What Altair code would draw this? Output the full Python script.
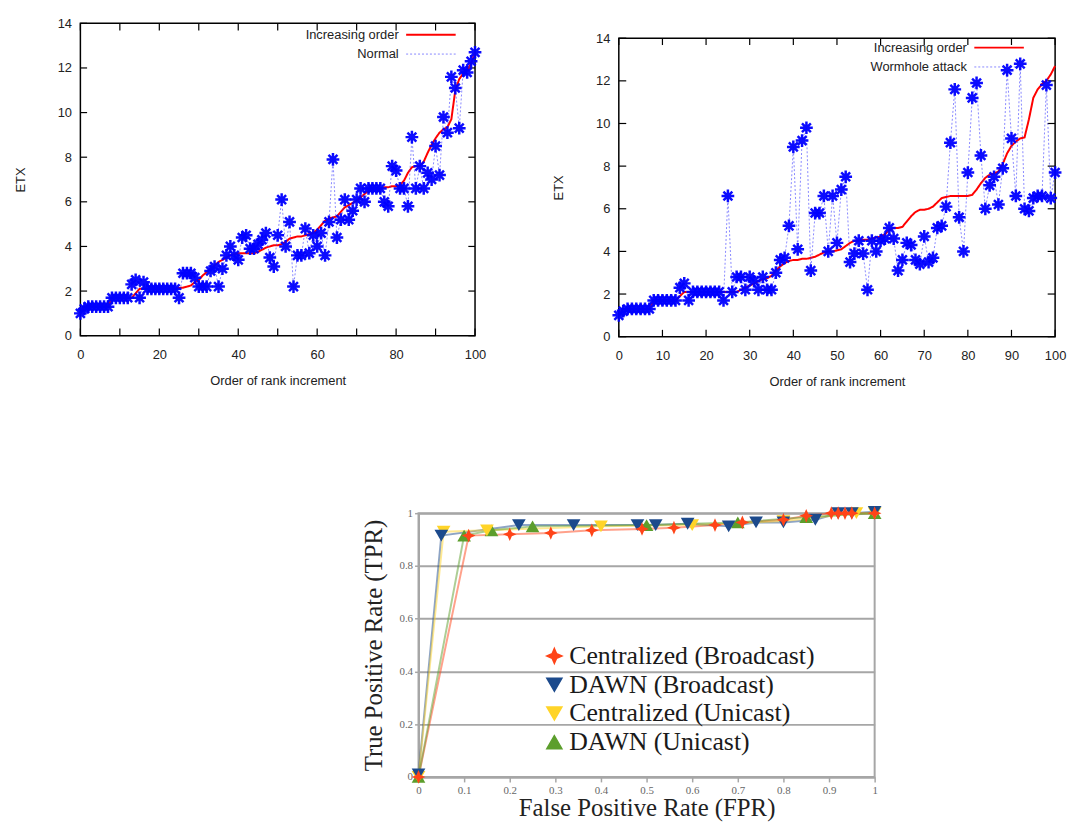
import altair as alt
import pandas as pd

# ---------------- data: top-left panel (Normal) ----------------
rank = list(range(101))
inc_order_1 = [
    1.0, 1.3, 1.3, 1.3, 1.3, 1.3, 1.3, 1.3, 1.7, 1.7,
    1.7, 1.7, 1.7, 1.7, 1.9, 2.1, 2.1, 2.1, 2.1, 2.1,
    2.1, 2.1, 2.1, 2.1, 2.1, 2.14, 2.15, 2.2, 2.25, 2.4,
    2.5, 2.7, 2.85, 3.0, 3.15, 3.3, 3.4, 3.5, 3.6, 3.65,
    3.7, 3.7, 3.7, 3.7, 3.7, 3.75, 3.85, 3.95, 4.0, 4.05,
    4.05, 4.1, 4.2, 4.35, 4.4, 4.45, 4.45, 4.5, 4.55, 4.6,
    4.75, 4.95, 5.15, 5.25, 5.3, 5.35, 5.55, 5.75, 5.85, 5.95,
    6.05, 6.2, 6.35, 6.5, 6.55, 6.6, 6.6, 6.65, 6.65, 6.7,
    6.7, 6.75, 6.95, 7.3, 7.55, 7.6, 7.6, 7.8, 8.2, 8.55,
    8.85, 9.1, 9.25, 9.35, 9.7, 11.0, 11.5, 11.75, 11.9, 12.2,
    12.7,
]
normal = [
    1.0, 1.2, 1.3, 1.3, 1.3, 1.3, 1.3, 1.3, 1.7, 1.7,
    1.7, 1.7, 1.7, 2.3, 2.5, 1.7, 2.4, 2.1, 2.1, 2.1,
    2.1, 2.1, 2.1, 2.1, 2.1, 1.7, 2.8, 2.8, 2.8, 2.6,
    2.2, 2.2, 2.2, 2.9, 3.1, 2.2, 3.0, 3.6, 4.0, 3.6,
    3.4, 4.4, 4.5, 3.9, 3.9, 4.1, 4.3, 4.6, 3.5, 3.1,
    4.5, 6.1, 4.0, 5.1, 2.2, 3.6, 3.6, 4.8, 3.7, 4.5,
    4.0, 4.6, 3.6, 5.1, 7.9, 4.4, 5.2, 6.1, 5.2, 5.6,
    6.1, 6.6, 6.0, 6.6, 6.6, 6.6, 6.6, 6.0, 5.8, 7.6,
    7.4, 6.6, 6.6, 5.8, 8.9, 6.6, 7.6, 6.6, 7.3, 7.0,
    8.5, 7.2, 9.8, 9.1, 11.6, 11.1, 9.3, 11.9, 11.8, 12.3,
    12.7,
]

# ---------------- data: top-right panel (Wormhole attack) ----------------
inc_order_2 = [
    1.0, 1.3, 1.3, 1.3, 1.3, 1.3, 1.3, 1.3, 1.7, 1.7,
    1.7, 1.7, 1.7, 1.7, 1.9, 2.1, 2.1, 2.1, 2.1, 2.1,
    2.1, 2.1, 2.1, 2.1, 2.1, 2.1, 2.1, 2.1, 2.2, 2.3,
    2.4, 2.5, 2.6, 2.7, 2.75, 2.85, 3.1, 3.3, 3.45, 3.55,
    3.6, 3.6, 3.65, 3.65, 3.7, 3.75, 3.85, 3.95, 4.0, 4.0,
    4.05, 4.1, 4.25, 4.4, 4.5, 4.5, 4.55, 4.55, 4.6, 4.65,
    4.7, 4.8, 5.0, 5.1, 5.1, 5.15, 5.4, 5.65, 5.85, 5.95,
    5.95, 6.0, 6.1, 6.3, 6.5, 6.55, 6.6, 6.6, 6.6, 6.6,
    6.6, 6.65, 6.9, 7.2, 7.45, 7.6, 7.65, 7.75, 8.1, 8.6,
    8.95, 9.15, 9.3, 9.35, 10.2, 11.2, 11.6, 11.85, 12.0, 12.3,
    12.7,
]
wormhole = [
    1.0, 1.2, 1.3, 1.3, 1.3, 1.3, 1.3, 1.3, 1.7, 1.7,
    1.7, 1.7, 1.7, 1.7, 2.3, 2.5, 1.7, 2.1, 2.1, 2.1,
    2.1, 2.1, 2.1, 2.1, 1.7, 6.6, 2.1, 2.8, 2.8, 2.2,
    2.8, 2.6, 2.2, 2.8, 2.2, 2.2, 3.0, 3.6, 3.7, 5.2,
    8.9, 4.1, 9.2, 9.8, 3.1, 5.8, 5.8, 6.6, 4.0, 6.6,
    4.4, 6.9, 7.5, 3.5, 3.9, 4.5, 3.9, 2.2, 4.5, 4.0,
    4.5, 4.6, 5.1, 4.6, 3.1, 3.6, 4.4, 4.3, 3.6, 3.4,
    4.7, 3.5, 3.7, 5.1, 5.2, 6.1, 9.1, 11.6, 5.6, 4.0,
    7.7, 11.2, 11.9, 8.5, 6.0, 7.1, 7.5, 6.2, 7.9, 12.5,
    9.3, 6.6, 12.8, 6.0, 5.9, 6.5, 6.6, 6.6, 11.8, 6.5,
    7.7,
]
x_ticks = [0, 10, 20, 30, 40, 50, 60, 70, 80, 90, 100]
y_ticks = [0, 2, 4, 6, 8, 10, 12, 14]

# ---------------- data: bottom ROC panel ----------------
roc_series = ["Centralized (Broadcast)", "DAWN (Broadcast)",
              "Centralized (Unicast)", "DAWN (Unicast)"]
cb_fpr = [0, 0.11, 0.2, 0.29, 0.38, 0.49, 0.56, 0.65, 0.71, 0.8, 0.85, 0.905, 0.92, 0.935, 0.95, 1.0]
cb_tpr = [0, 0.915, 0.92, 0.925, 0.935, 0.94, 0.945, 0.955, 0.965, 0.975, 0.99, 1.0, 1.0, 1.0, 1.0, 1.0]
db_fpr = [0, 0.05, 0.22, 0.34, 0.48, 0.52, 0.59, 0.68, 0.74, 0.8, 0.87, 0.92, 0.95, 1.0]
db_tpr = [0.01, 0.915, 0.955, 0.955, 0.955, 0.955, 0.96, 0.95, 0.965, 0.965, 0.975, 1.0, 1.0, 1.005]
cu_fpr = [0, 0.055, 0.15, 0.4, 0.6, 0.8, 0.96, 1.0]
cu_tpr = [0, 0.93, 0.935, 0.95, 0.955, 0.97, 1.0, 1.0]
du_fpr = [0, 0.1, 0.16, 0.25, 0.5, 0.7, 0.85, 1.0]
du_tpr = [0, 0.915, 0.935, 0.95, 0.955, 0.965, 0.985, 1.0]
roc_ticks = [0, 0.1, 0.2, 0.3, 0.4, 0.5, 0.6, 0.7, 0.8, 0.9, 1.0]

SANS = "Liberation Sans"
SERIF = "Liberation Serif"
STAR8 = "M-1,0L1,0M0,-1L0,1M-0.7,-0.7L0.7,0.7M-0.7,0.7L0.7,-0.7"
STAR4 = "M0,-1L0.3,-0.3L1,0L0.3,0.3L0,1L-0.3,0.3L-1,0L-0.3,-0.3Z"
LEG_LINE = "M-4,0L4,0"


def etx_panel(inc, obs, obs_name, width, height, lx, ly):
    long = pd.DataFrame({
        "rank": rank * 2,
        "etx": inc + obs,
        "series": ["Increasing order"] * 101 + [obs_name] * 101,
    })
    pts = pd.DataFrame({"rank": rank, "etx": obs})
    xs = alt.Scale(domain=[0, 100], nice=False, zero=False)
    ys = alt.Scale(domain=[0, 14], nice=False)
    xax = alt.Axis(values=x_ticks, ticks=False, domain=False, grid=False,
                   labelFlush=False, labelOverlap=False,
                   labelFont=SANS, labelFontSize=13, labelColor="#222",
                   labelPadding=13, title="Order of rank increment",
                   titleFont=SANS, titleFontSize=13, titleFontWeight="normal",
                   titleColor="#222", titlePadding=13)
    yax = alt.Axis(values=y_ticks, ticks=False, domain=False, grid=False,
                   labelFlush=False, labelOverlap=False,
                   labelFont=SANS, labelFontSize=13, labelColor="#222",
                   labelPadding=9, title="ETX", titleFont=SANS,
                   titleFontSize=13, titleFontWeight="normal",
                   titleColor="#222", titlePadding=30)
    dom = ["Increasing order", obs_name]
    lines = alt.Chart(long).mark_line(interpolate="linear").encode(
        x=alt.X("rank:Q", scale=xs, axis=xax),
        y=alt.Y("etx:Q", scale=ys, axis=yax),
        color=alt.Color("series:N",
                        scale=alt.Scale(domain=dom, range=["#ff0000", "#3a3aff"]),
                        legend=alt.Legend(
                            title=None, orient="none", legendX=lx, legendY=ly,
                            symbolType=LEG_LINE, symbolSize=156,
                            symbolStrokeWidth=2, labelAlign="right",
                            labelOffset={"expr": "-40"}, labelFont=SANS,
                            labelFontSize=13, labelColor="#222",
                            rowPadding=5, labelLimit=300)),
        strokeDash=alt.StrokeDash("series:N",
                                  scale=alt.Scale(domain=dom, range=[[1, 0], [2, 2]]),
                                  legend=None),
        strokeWidth=alt.StrokeWidth("series:N",
                                    scale=alt.Scale(domain=dom, range=[2, 1]),
                                    legend=None),
        opacity=alt.Opacity("series:N",
                            scale=alt.Scale(domain=dom, range=[1, 0.6]),
                            legend=None),
        detail="series:N",
        order="rank:Q",
    )
    stars = alt.Chart(pts).mark_point(shape=STAR8, filled=False, strokeWidth=2.5,
                                      size=165, color="#0000ff", opacity=0.95).encode(
        x=alt.X("rank:Q", scale=xs), y=alt.Y("etx:Q", scale=ys))
    xt = pd.DataFrame({"t": x_ticks, "b0": [0] * 11, "b1": [0.32] * 11,
                       "t0": [14] * 11, "t1": [13.68] * 11})
    yt = pd.DataFrame({"t": y_ticks, "l0": [0] * 8, "l1": [1.7] * 8,
                       "r0": [100] * 8, "r1": [98.3] * 8})
    tick_b = alt.Chart(xt).mark_rule(color="#000", strokeWidth=1.2).encode(
        x=alt.X("t:Q", scale=xs), y=alt.Y("b0:Q", scale=ys), y2="b1:Q")
    tick_t = alt.Chart(xt).mark_rule(color="#000", strokeWidth=1.2).encode(
        x=alt.X("t:Q", scale=xs), y=alt.Y("t0:Q", scale=ys), y2="t1:Q")
    tick_l = alt.Chart(yt).mark_rule(color="#000", strokeWidth=1.2).encode(
        y=alt.Y("t:Q", scale=ys), x=alt.X("l0:Q", scale=xs), x2="l1:Q")
    tick_r = alt.Chart(yt).mark_rule(color="#000", strokeWidth=1.2).encode(
        y=alt.Y("t:Q", scale=ys), x=alt.X("r0:Q", scale=xs), x2="r1:Q")
    return alt.layer(tick_b, tick_t, tick_l, tick_r, lines, stars).properties(
        width=width, height=height,
        view=alt.ViewBackground(stroke="#000", strokeWidth=1.5))


def blank(w, h):
    return alt.Chart(pd.DataFrame({"a": [0]})).mark_point(opacity=0).encode(
        x=alt.value(0), y=alt.value(0)).properties(width=w, height=h)


indep = dict(color="independent", strokeDash="independent",
             strokeWidth="independent", opacity="independent", shape="independent",
             x="independent", y="independent")

p1 = etx_panel(inc_order_1, normal, "Normal", 398, 315, 346, 4)
p2 = etx_panel(inc_order_2, wormhole, "Wormhole attack", 440, 301, 376, 2)
p2_col = alt.vconcat(blank(10, 1), p2, spacing=5).resolve_scale(**indep)

# ---------------- ROC panel ----------------
roc_rows = []
for name, fx, ty in [(roc_series[0], cb_fpr, cb_tpr), (roc_series[1], db_fpr, db_tpr),
                     (roc_series[2], cu_fpr, cu_tpr), (roc_series[3], du_fpr, du_tpr)]:
    for i, (a, b) in enumerate(zip(fx, ty)):
        roc_rows.append({"series": name, "fpr": a, "tpr": b, "idx": i})
roc = pd.DataFrame(roc_rows)
roc_colors = ["#ff4418", "#1c4a8c", "#ffd428", "#5c9e2c"]
draw_rank = {roc_series[0]: 3, roc_series[1]: 2, roc_series[2]: 1, roc_series[3]: 0}
roc["z"] = roc["series"].map(draw_rank)

rx = alt.Scale(domain=[0, 1], nice=False)
ry = alt.Scale(domain=[0, 1], nice=False)
rxax = alt.Axis(values=roc_ticks, format=".1~f", grid=False, domain=True,
                labelFlush=False, labelOverlap=False,
                domainColor="#a6a6a6", domainWidth=2, ticks=True, tickColor="#a6a6a6",
                tickSize=5, tickWidth=1.5, labelFont=SERIF, labelFontSize=11,
                labelColor="#666", labelPadding=3, title="False Positive Rate (FPR)",
                titleFont=SERIF, titleFontSize=25, titleFontWeight="normal",
                titleColor="#222", titlePadding=0)
ryax = alt.Axis(values=roc_ticks, format=".1~f", grid=True, gridColor="#a6a6a6",
                labelFlush=False, labelOverlap=False,
                gridWidth=2, domain=True, domainColor="#a6a6a6", domainWidth=2,
                ticks=True, tickColor="#a6a6a6", tickSize=4, tickWidth=1.5,
                labelFont=SERIF, labelFontSize=11, labelColor="#666", labelPadding=2,
                title="True Positive Rate (TPR)", titleFont=SERIF, titleFontSize=25,
                titleFontWeight="normal", titleColor="#222", titlePadding=13)
col_scale = alt.Scale(domain=roc_series, range=roc_colors)
shape_scale = alt.Scale(domain=roc_series,
                        range=[STAR4, "triangle-down", "triangle-down", "triangle-up"])
roc_legend = alt.Legend(title=None, orient="none", legendX=124, legendY=131,
                        labelFont=SERIF, labelFontSize=26, labelColor="#1a1a1a",
                        symbolSize=230, symbolOpacity=1, rowPadding=3,
                        labelLimit=400, labelOffset=2)

roc_lines = alt.Chart(roc).mark_line(strokeWidth=2, opacity=0.5).encode(
    x=alt.X("fpr:Q", scale=rx, axis=rxax),
    y=alt.Y("tpr:Q", scale=ry, axis=ryax),
    color=alt.Color("series:N", scale=col_scale, legend=roc_legend),
    detail="series:N",
    order="idx:Q",
)
roc_pts = alt.Chart(roc).mark_point(filled=True, size=190, opacity=1).encode(
    x=alt.X("fpr:Q", scale=rx),
    y=alt.Y("tpr:Q", scale=ry),
    color=alt.Color("series:N", scale=col_scale, legend=roc_legend),
    shape=alt.Shape("series:N", scale=shape_scale, legend=roc_legend),
    order=alt.Order("z:Q"),
)
p3 = alt.layer(roc_lines, roc_pts).properties(
    width=460, height=266,
    view=alt.ViewBackground(stroke="#a6a6a6", strokeWidth=2))

top = alt.hconcat(p1, p2_col, spacing=64).resolve_scale(**indep)
bottom = alt.hconcat(blank(230, 10), p3, spacing=52).resolve_scale(**indep)
chart = alt.vconcat(top, bottom, spacing=116).properties(
    padding={"left": 5, "top": 5, "right": 0, "bottom": 0},
    background="white",
).configure_view(stroke=None).configure_legend(
    labelFont=SERIF
).resolve_scale(**indep)

chart.save("out.html", embed_options={"renderer": "svg", "actions": False})
